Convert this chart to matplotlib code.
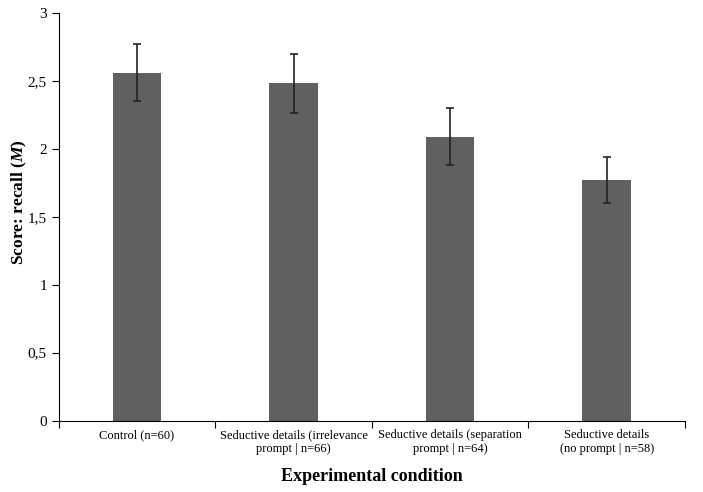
import numpy as np
import matplotlib
matplotlib.use('Agg')
import matplotlib.pyplot as plt
from matplotlib.ticker import FuncFormatter

conditions = ['Control (n=60)',
              'Seductive details (irrelevance\nprompt | n=66)',
              'Seductive details (separation\nprompt | n=64)',
              'Seductive details\n(no prompt | n=58)']
recall_mean = [2.56, 2.48, 2.09, 1.77]
recall_err = [0.21, 0.22, 0.21, 0.17]

plt.rcParams['font.family'] = ['Liberation Serif', 'DejaVu Serif']
plt.rcParams['mathtext.fontset'] = 'custom'
plt.rcParams['mathtext.it'] = 'Liberation Serif:italic:bold'
plt.rcParams['mathtext.rm'] = 'Liberation Serif:bold'

fig = plt.figure(figsize=(7.03, 4.92), dpi=100)
ax = fig.add_axes([0.0834, 0.145, 0.891, 0.829])

x = np.arange(len(conditions))
ax.bar(x, recall_mean, width=0.31, color='#606060', zorder=2)
ax.errorbar(x, recall_mean, yerr=recall_err, fmt='none', ecolor='#222222',
            elinewidth=1.2, capsize=3, capthick=1.2, zorder=3)

ax.set_xlim(-0.5, len(conditions) - 0.5)
ax.set_ylim(0, 3)
ax.set_yticks(np.arange(0, 3.01, 0.5))
ax.yaxis.set_major_formatter(FuncFormatter(lambda v, p: f'{v:g}'.replace('.', ',')))

# category boundaries get the tick marks, labels sit at the centres
ax.set_xticks(np.arange(-0.5, len(conditions), 1.0))
ax.set_xticklabels([])
ax.set_xticks(x, minor=True)
ax.set_xticklabels(conditions, minor=True, fontsize=9, linespacing=1.25)
ax.tick_params(axis='x', which='minor', length=0, pad=6)
ax.tick_params(axis='x', which='major', length=5, direction='out')
ax.tick_params(axis='y', length=5, direction='out', labelsize=11)

ax.spines['top'].set_visible(False)
ax.spines['right'].set_visible(False)

ax.set_ylabel(r'Score: recall ($\mathit{M}$)', fontsize=12.5, fontweight='bold')
ax.yaxis.set_label_coords(-0.047, 0.536)
ax.set_xlabel('Experimental condition', fontsize=13, fontweight='bold', labelpad=9)

fig.savefig('out.png', dpi=100)
